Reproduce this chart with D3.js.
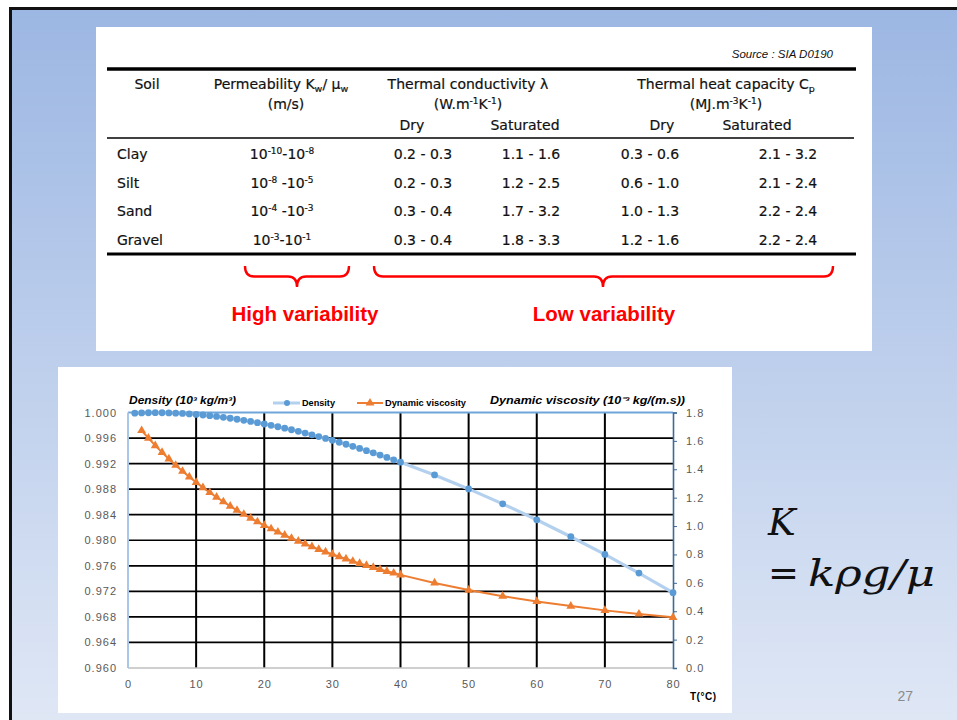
<!DOCTYPE html>
<html>
<head>
<meta charset="utf-8">
<script src="https://cdn.jsdelivr.net/npm/d3@7"></script>
<style>
  body { margin: 0; background: #fff; }
  svg { display: block; }
  .tbl { font-family: "DejaVu Sans", sans-serif; font-size: 14px; fill: #111; stroke: #111; stroke-width: 0.2px; }
  .tick text { font-family: "Liberation Sans", Arial, sans-serif; font-size: 11px; fill: #595959; letter-spacing: 1px; }
</style>
</head>
<body>
<script>
// ---- table data ----
var soils = ["Clay", "Silt", "Sand", "Gravel"];
var permExp = [["-10", "-8"], ["-8", "-5"], ["-4", "-3"], ["-3", "-1"]];
var condDry = ["0.2 - 0.3", "0.2 - 0.3", "0.3 - 0.4", "0.3 - 0.4"];
var condSat = ["1.1 - 1.6", "1.2 - 2.5", "1.7 - 3.2", "1.8 - 3.3"];
var capDry  = ["0.3 - 0.6", "0.6 - 1.0", "1.0 - 1.3", "1.2 - 1.6"];
var capSat  = ["2.1 - 3.2", "2.1 - 2.4", "2.2 - 2.4", "2.2 - 2.4"];

// ---- chart data (water) ----
var densityT = [1,2,3,4,5,6,7,8,9,10,11,12,13,14,15,16,17,18,19,20,21,22,23,24,25,26,27,28,29,30,
                31,32,33,34,35,36,37,38,39,40,45,50,55,60,65,70,75,80];
var density = [0.99990,0.99994,0.99996,0.99997,0.99996,0.99994,0.99990,0.99985,0.99978,0.99970,
               0.99961,0.99950,0.99938,0.99924,0.99910,0.99894,0.99877,0.99860,0.99841,0.99820,
               0.99799,0.99777,0.99754,0.99730,0.99705,0.99678,0.99651,0.99623,0.99594,0.99565,
               0.99534,0.99503,0.99470,0.99437,0.99403,0.99368,0.99333,0.99297,0.99259,0.99222,
               0.99022,0.98804,0.98570,0.98320,0.98055,0.97778,0.97486,0.97180];
var viscT = [2,3,4,5,6,7,8,9,10,11,12,13,14,15,16,17,18,19,20,21,22,23,24,25,26,27,28,29,30,
             31,32,33,34,35,36,37,38,39,40,45,50,55,60,65,70,75,80];
var viscosity = [1.673,1.619,1.567,1.519,1.473,1.428,1.386,1.346,1.308,1.271,1.236,1.203,1.171,1.140,
                 1.111,1.083,1.056,1.030,1.005,0.981,0.958,0.936,0.914,0.894,0.874,0.855,0.836,0.818,
                 0.801,0.784,0.768,0.752,0.737,0.723,0.709,0.695,0.681,0.669,0.656,0.599,0.549,0.506,
                 0.469,0.436,0.406,0.380,0.357];
var tempTicks = [0,10,20,30,40,50,60,70,80];
var densityTicks = [0.960,0.964,0.968,0.972,0.976,0.980,0.984,0.988,0.992,0.996,1.000];
var viscTicks = [0,0.2,0.4,0.6,0.8,1.0,1.2,1.4,1.6,1.8];

var width = 957, height = 720;
var svg = d3.select("body").append("svg").attr("width", width).attr("height", height);

// slide background
var grad = svg.append("defs").append("linearGradient").attr("id", "bg")
    .attr("x1", 0).attr("y1", 0).attr("x2", 0).attr("y2", 1);
grad.append("stop").attr("offset", "0%").attr("stop-color", "#9cb7e3");
grad.append("stop").attr("offset", "100%").attr("stop-color", "#dfe7f5");
svg.append("rect").attr("x", 9).attr("y", 7).attr("width", width - 9).attr("height", height - 7).attr("fill", "#111");
svg.append("rect").attr("x", 12).attr("y", 10).attr("width", width - 12).attr("height", height - 10).attr("fill", "url(#bg)");

// ================= table =================
svg.append("rect").attr("x", 96).attr("y", 27).attr("width", 776).attr("height", 324).attr("fill", "#fff");
var tbl = svg.append("g").attr("class", "tbl");

tbl.append("text").attr("x", 833).attr("y", 58).attr("text-anchor", "end")
    .style("font-family", "Liberation Sans, Arial, sans-serif").style("font-size", "11.5px")
    .style("stroke-width", 0).style("font-style", "italic").text("Source : SIA D0190");

tbl.append("line").attr("x1", 107).attr("x2", 856).attr("y1", 69).attr("y2", 69).attr("stroke", "#000").attr("stroke-width", 3.5);
tbl.append("line").attr("x1", 107).attr("x2", 854).attr("y1", 138).attr("y2", 138).attr("stroke", "#000").attr("stroke-width", 1.3);
tbl.append("line").attr("x1", 107).attr("x2", 856).attr("y1", 254).attr("y2", 254).attr("stroke", "#000").attr("stroke-width", 3);

function hText(x, y, parts) {
  var t = tbl.append("text").attr("x", x).attr("y", y).attr("text-anchor", "middle");
  parts.forEach(function(p) {
    var s = t.append("tspan").text(p[0]);
    if (p[1] === "sub") s.attr("font-size", 9.5).attr("dy", 3);
    else if (p[1] === "sup") s.attr("font-size", 9).attr("dy", -5);
    else if (p[1] === "back") s.attr("dy", p[2]);
  });
  return t;
}
hText(147, 89, [["Soil"]]);
hText(281, 89, [["Permeability K"], ["w", "sub"], ["/ \u03bc", "back", -3], ["w", "sub"]]);
hText(286, 109, [["(m/s)"]]);
hText(468, 89, [["Thermal conductivity \u03bb"]]);
hText(468, 109, [["(W.m"], ["-1", "sup"], ["K", "back", 5], ["-1", "sup"], [")", "back", 5]]);
hText(726, 89, [["Thermal heat capacity C"], ["p", "sub"]]);
hText(726, 109, [["(MJ.m"], ["-3", "sup"], ["K", "back", 5], ["-1", "sup"], [")", "back", 5]]);
hText(412, 130, [["Dry"]]);
hText(525, 130, [["Saturated"]]);
hText(662, 130, [["Dry"]]);
hText(757, 130, [["Saturated"]]);

var rowY = d3.scalePoint().domain(soils).range([159, 245]);
soils.forEach(function(s, i) {
  var y = rowY(s);
  tbl.append("text").attr("x", 117).attr("y", y).text(s);
  hText(282, y, [["10"], [permExp[i][0], "sup"], [i === 0 || i === 3 ? "-10" : " -10", "back", 5], [permExp[i][1], "sup"]]);
  hText(423, y, [[condDry[i]]]);
  hText(531, y, [[condSat[i]]]);
  hText(650, y, [[capDry[i]]]);
  hText(788, y, [[capSat[i]]]);
});

// braces
function brace(x1, x2, xm, y0, y1) {
  var ym = (y0 + y1) / 2, r = 9;
  return "M" + x1 + "," + y0 + " Q" + x1 + "," + ym + " " + (x1 + r) + "," + ym +
         " L" + (xm - r) + "," + ym + " Q" + xm + "," + ym + " " + xm + "," + y1 +
         " Q" + xm + "," + ym + " " + (xm + r) + "," + ym +
         " L" + (x2 - r) + "," + ym + " Q" + x2 + "," + ym + " " + x2 + "," + y0;
}
svg.append("path").attr("d", brace(245, 349, 297, 266, 287)).attr("fill", "none").attr("stroke", "#ff0000").attr("stroke-width", 2.4);
svg.append("path").attr("d", brace(374, 833, 603, 266, 287)).attr("fill", "none").attr("stroke", "#ff0000").attr("stroke-width", 2.4);
svg.append("text").attr("x", 305).attr("y", 321).attr("text-anchor", "middle")
    .style("font-family", "Liberation Sans, Arial, sans-serif").style("font-weight", "bold").style("font-size", "20.5px")
    .attr("fill", "#ff0000").text("High variability");
svg.append("text").attr("x", 604).attr("y", 321).attr("text-anchor", "middle")
    .style("font-family", "Liberation Sans, Arial, sans-serif").style("font-weight", "bold").style("font-size", "20.5px")
    .attr("fill", "#ff0000").text("Low variability");

// ================= chart =================
svg.append("rect").attr("x", 58).attr("y", 367).attr("width", 674).attr("height", 346).attr("fill", "#fff");

var x = d3.scaleLinear().domain([0, 80]).range([128, 673]);
var yL = d3.scaleLinear().domain([0.960, 1.000]).range([668, 412.5]);
var yR = d3.scaleLinear().domain([0, 1.8]).range([668, 412.5]);

var chart = svg.append("g");

// grid
chart.selectAll(".hgrid").data(densityTicks.slice(1, -1)).enter().append("line")
    .attr("x1", x(0)).attr("x2", x(80)).attr("y1", d => yL(d)).attr("y2", d => yL(d))
    .attr("stroke", "#000").attr("stroke-width", 1.7);
chart.selectAll(".vgrid").data(tempTicks.slice(1, -1)).enter().append("line")
    .attr("x1", d => x(d)).attr("x2", d => x(d)).attr("y1", yL(1.0)).attr("y2", yL(0.96))
    .attr("stroke", "#000").attr("stroke-width", 2);

// frame
chart.append("line").attr("x1", x(0)).attr("x2", x(80)).attr("y1", yL(0.96)).attr("y2", yL(0.96)).attr("stroke", "#bfbfbf").attr("stroke-width", 1.5);
chart.append("line").attr("x1", x(0)).attr("x2", x(80)).attr("y1", yL(1.0)).attr("y2", yL(1.0)).attr("stroke", "#6fa6da").attr("stroke-width", 2);
chart.append("line").attr("x1", x(0)).attr("x2", x(0)).attr("y1", yL(1.0)).attr("y2", yL(0.96)).attr("stroke", "#a9c7e6").attr("stroke-width", 2);

// axes
var axL = chart.append("g").attr("transform", "translate(" + x(0) + ",0)")
    .call(d3.axisLeft(yL).tickValues(densityTicks).tickSize(0).tickPadding(11).tickFormat(d3.format(".3f")));
axL.select(".domain").remove();
var axR = chart.append("g").attr("transform", "translate(" + x(80) + ",0)")
    .call(d3.axisRight(yR).tickValues(viscTicks).tickSize(4).tickPadding(9).tickFormat(d3.format(".1f")));
axR.select(".domain").attr("stroke", "#3e6a96").attr("stroke-width", 1.6);
axR.selectAll(".tick line").attr("stroke", "#3e6a96");
var axB = chart.append("g").attr("transform", "translate(0," + (yL(0.96) + 8) + ")")
    .call(d3.axisBottom(x).tickValues(tempTicks).tickSize(0).tickPadding(4));
axB.select(".domain").remove();

// density series
var densPts = densityT.map((t, i) => [t, density[i]]);
chart.append("path").datum(densPts)
    .attr("d", d3.line().x(d => x(d[0])).y(d => yL(d[1])))
    .attr("fill", "none").attr("stroke", "#b3d0ee").attr("stroke-width", 3.2);
chart.selectAll(".dp").data(densPts).enter().append("circle")
    .attr("cx", d => x(d[0])).attr("cy", d => yL(d[1])).attr("r", 3.4).attr("fill", "#5b9bd5");

// viscosity series
var viscPts = viscT.map((t, i) => [t, viscosity[i]]);
chart.append("path").datum(viscPts)
    .attr("d", d3.line().x(d => x(d[0])).y(d => yR(d[1])))
    .attr("fill", "none").attr("stroke", "#ed7d31").attr("stroke-width", 2);
var tri = d3.symbol().type(d3.symbolTriangle).size(34);
chart.selectAll(".vp").data(viscPts).enter().append("path")
    .attr("d", tri).attr("transform", d => "translate(" + x(d[0]) + "," + yR(d[1]) + ")")
    .attr("fill", "#ed7d31");

// titles & legend
var bi = { "font-family": "Liberation Sans, Arial, sans-serif", "font-weight": "bold", "font-style": "italic", "font-size": "10px" };
function styled(sel, st) { Object.keys(st).forEach(k => sel.style(k, st[k])); return sel; }
styled(chart.append("text").attr("x", 129).attr("y", 404).attr("textLength", 107).attr("lengthAdjust", "spacingAndGlyphs").text("Density (10\u00b3 kg/m\u00b3)"), bi);
styled(chart.append("text").attr("x", 490).attr("y", 404).attr("textLength", 195).attr("lengthAdjust", "spacingAndGlyphs").text("Dynamic viscosity (10\u207b\u00b3 kg/(m.s))"), bi);

var lg = { "font-family": "Liberation Sans, Arial, sans-serif", "font-weight": "bold", "font-size": "8.5px" };
chart.append("line").attr("x1", 273).attr("x2", 300).attr("y1", 403).attr("y2", 403).attr("stroke", "#b3d0ee").attr("stroke-width", 3);
chart.append("circle").attr("cx", 287).attr("cy", 403).attr("r", 3).attr("fill", "#5b9bd5");
styled(chart.append("text").attr("x", 302).attr("y", 406).attr("textLength", 33).attr("lengthAdjust", "spacingAndGlyphs").text("Density"), lg);
chart.append("line").attr("x1", 357).attr("x2", 383).attr("y1", 403).attr("y2", 403).attr("stroke", "#ed7d31").attr("stroke-width", 2);
chart.append("path").attr("d", tri).attr("transform", "translate(370,403)").attr("fill", "#ed7d31");
styled(chart.append("text").attr("x", 385).attr("y", 406).attr("textLength", 81).attr("lengthAdjust", "spacingAndGlyphs").text("Dynamic viscosity"), lg);

styled(chart.append("text").attr("x", 690).attr("y", 700).attr("textLength", 26).text("T(\u00b0C)"),
  { "font-family": "Liberation Sans, Arial, sans-serif", "font-weight": "bold", "font-size": "10px" });

// ================= formula & page number =================
var fm = { "font-family": "DejaVu Serif, Liberation Serif, serif", "font-style": "italic", "font-size": "37px", "fill": "#111" };
styled(svg.append("text").attr("x", 768).attr("y", 535).text("K"), fm);
styled(svg.append("text").attr("x", 768).attr("y", 586).text("="), Object.assign({}, fm, { "font-style": "normal" }));
styled(svg.append("text").attr("x", 808).attr("y", 586).attr("textLength", 127).attr("lengthAdjust", "spacingAndGlyphs").text("k\u03c1g/\u03bc"), fm);

svg.append("text").attr("x", 913).attr("y", 701).attr("text-anchor", "end")
    .style("font-family", "Liberation Sans, Arial, sans-serif").style("font-size", "14px")
    .attr("fill", "#8a8a8a").text("27");
</script>
</body>
</html>
